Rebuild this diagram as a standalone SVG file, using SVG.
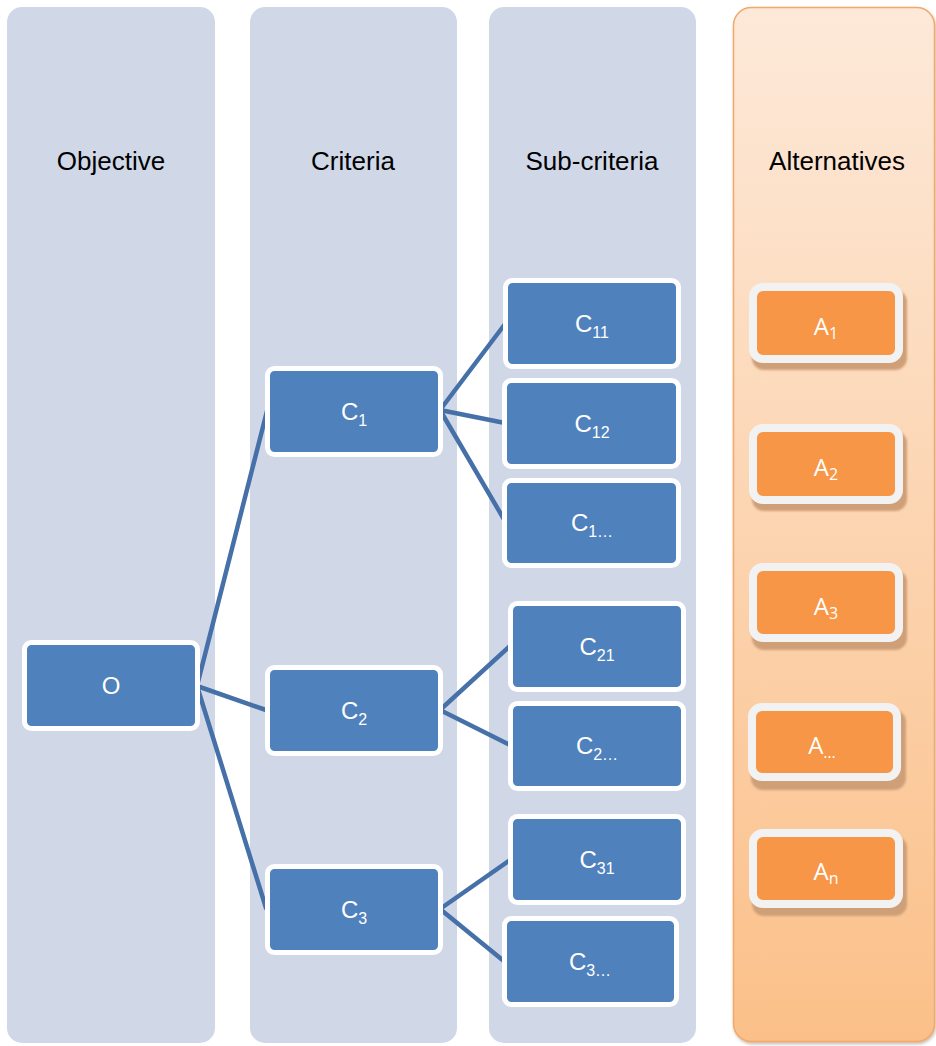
<svg xmlns="http://www.w3.org/2000/svg" width="936" height="1046" viewBox="0 0 936 1046">
  <style>
    .lane { fill: #d0d8e8; }
    .head { font-family: "Liberation Sans", Arial, sans-serif; font-size: 26px; fill: #000; text-anchor: middle; }
    .crit rect { fill: #4f81bd; stroke: #ffffff; stroke-width: 5; }
    .crit text { font-family: "Liberation Sans", Arial, sans-serif; font-size: 24px; fill: #ffffff; text-anchor: middle; }
    .alt .shade { fill: #cf9f78; }
    .alt .box { fill: #f79646; stroke: #f2f2f2; stroke-width: 8; }
    .alt text { font-family: "Open Sans", "Noto Sans", sans-serif; font-size: 24px; fill: #ffffff; text-anchor: middle; }
    .sub { font-size: 16px; }
    .alt .sub { font-size: 16px; }
    .link { stroke: #4670a8; stroke-width: 4.5; fill: none; stroke-linecap: round; }
  </style>
  <defs>
    <linearGradient id="altFill" x1="0" y1="0" x2="0" y2="1">
      <stop offset="0" stop-color="#fde9d9"/>
      <stop offset="1" stop-color="#fbc089"/>
    </linearGradient>
    <filter id="laneShadow" x="-5%" y="-5%" width="110%" height="110%">
      <feDropShadow dx="1" dy="2" stdDeviation="1.5" flood-color="#8a6a50" flood-opacity="0.45"/>
    </filter>
    <filter id="soft" x="-5%" y="-10%" width="110%" height="120%">
      <feGaussianBlur stdDeviation="0.8"/>
    </filter>
  </defs>

  <!-- swim lanes -->
  <g id="lane-objective">
    <rect class="lane" x="7" y="7" width="208" height="1036" rx="15"/>
    <text class="head" x="111" y="170">Objective</text>
  </g>
  <g id="lane-criteria">
    <rect class="lane" x="250" y="7" width="207" height="1036" rx="15"/>
    <text class="head" x="353" y="170">Criteria</text>
  </g>
  <g id="lane-subcriteria">
    <rect class="lane" x="489" y="7" width="207" height="1036" rx="15"/>
    <text class="head" x="592" y="170">Sub-criteria</text>
  </g>
  <g id="lane-alternatives">
    <rect x="733.5" y="7.5" width="201" height="1034" rx="18" fill="url(#altFill)" stroke="#f2a96b" stroke-width="1.5" filter="url(#laneShadow)"/>
    <text class="head" x="837" y="170">Alternatives</text>
  </g>

  <!-- connectors -->
  <g id="connectors">
    <line class="link" x1="197" y1="686" x2="267" y2="411"/>
    <line class="link" x1="197" y1="686" x2="266" y2="710"/>
    <line class="link" x1="197" y1="686" x2="266" y2="908"/>
    <line class="link" x1="440" y1="410" x2="505" y2="324"/>
    <line class="link" x1="440" y1="410" x2="505" y2="423"/>
    <line class="link" x1="440" y1="410" x2="505" y2="521"/>
    <line class="link" x1="440" y1="710" x2="510" y2="646"/>
    <line class="link" x1="440" y1="710" x2="510" y2="745"/>
    <line class="link" x1="440" y1="909" x2="510" y2="860"/>
    <line class="link" x1="440" y1="909" x2="505" y2="962"/>
  </g>

  <!-- objective -->
  <g id="node-O" class="crit">
    <rect x="24.5" y="642.5" width="173" height="86" rx="7"/>
    <text x="111" y="694">O</text>
  </g>

  <!-- criteria -->
  <g id="node-C1" class="crit">
    <rect x="267.5" y="368.5" width="173" height="86" rx="7"/>
    <text x="354" y="420">C<tspan class="sub" dy="6">1</tspan></text>
  </g>
  <g id="node-C2" class="crit">
    <rect x="267.5" y="667.5" width="173" height="86" rx="7"/>
    <text x="354" y="719">C<tspan class="sub" dy="6">2</tspan></text>
  </g>
  <g id="node-C3" class="crit">
    <rect x="267.5" y="866.5" width="173" height="86" rx="7"/>
    <text x="354" y="918">C<tspan class="sub" dy="6">3</tspan></text>
  </g>

  <!-- sub-criteria -->
  <g id="node-C11" class="crit">
    <rect x="505.5" y="280.5" width="173" height="86" rx="7"/>
    <text x="592" y="332">C<tspan class="sub" dy="6">11</tspan></text>
  </g>
  <g id="node-C12" class="crit">
    <rect x="504.5" y="380.5" width="174" height="86" rx="7"/>
    <text x="592" y="432">C<tspan class="sub" dy="6">12</tspan></text>
  </g>
  <g id="node-C1x" class="crit">
    <rect x="504.5" y="480.5" width="174" height="85" rx="7"/>
    <text x="592" y="531">C<tspan class="sub" dy="6">1…</tspan></text>
  </g>
  <g id="node-C21" class="crit">
    <rect x="510.5" y="603.5" width="173" height="86" rx="7"/>
    <text x="597" y="655">C<tspan class="sub" dy="6">21</tspan></text>
  </g>
  <g id="node-C2x" class="crit">
    <rect x="510.5" y="703.5" width="173" height="85" rx="7"/>
    <text x="597" y="754">C<tspan class="sub" dy="6">2…</tspan></text>
  </g>
  <g id="node-C31" class="crit">
    <rect x="510.5" y="816.5" width="173" height="86" rx="7"/>
    <text x="597" y="868">C<tspan class="sub" dy="6">31</tspan></text>
  </g>
  <g id="node-C3x" class="crit">
    <rect x="504.5" y="918.5" width="172" height="86" rx="7"/>
    <text x="590" y="970">C<tspan class="sub" dy="6">3…</tspan></text>
  </g>

  <!-- alternatives -->
  <g id="node-A1" class="alt">
    <rect class="shade" x="752" y="290" width="155" height="80" rx="12" filter="url(#soft)"/>
    <rect class="box" x="753" y="287" width="146" height="72" rx="10"/>
    <text x="826" y="335">A<tspan class="sub" dy="4">1</tspan></text>
  </g>
  <g id="node-A2" class="alt">
    <rect class="shade" x="752" y="431" width="155" height="80" rx="12" filter="url(#soft)"/>
    <rect class="box" x="753" y="428" width="146" height="72" rx="10"/>
    <text x="826" y="476">A<tspan class="sub" dy="4">2</tspan></text>
  </g>
  <g id="node-A3" class="alt">
    <rect class="shade" x="752" y="570" width="155" height="80" rx="12" filter="url(#soft)"/>
    <rect class="box" x="753" y="567" width="146" height="71" rx="10"/>
    <text x="826" y="615">A<tspan class="sub" dy="4">3</tspan></text>
  </g>
  <g id="node-Ax" class="alt">
    <rect class="shade" x="751" y="710" width="155" height="80" rx="12" filter="url(#soft)"/>
    <rect class="box" x="752" y="707" width="145" height="70" rx="10"/>
    <text x="822" y="754">A<tspan class="sub" dy="4">…</tspan></text>
  </g>
  <g id="node-An" class="alt">
    <rect class="shade" x="752" y="836" width="155" height="80" rx="12" filter="url(#soft)"/>
    <rect class="box" x="753" y="833" width="146" height="71" rx="10"/>
    <text x="826" y="880">A<tspan class="sub" dy="4">n</tspan></text>
  </g>
</svg>
